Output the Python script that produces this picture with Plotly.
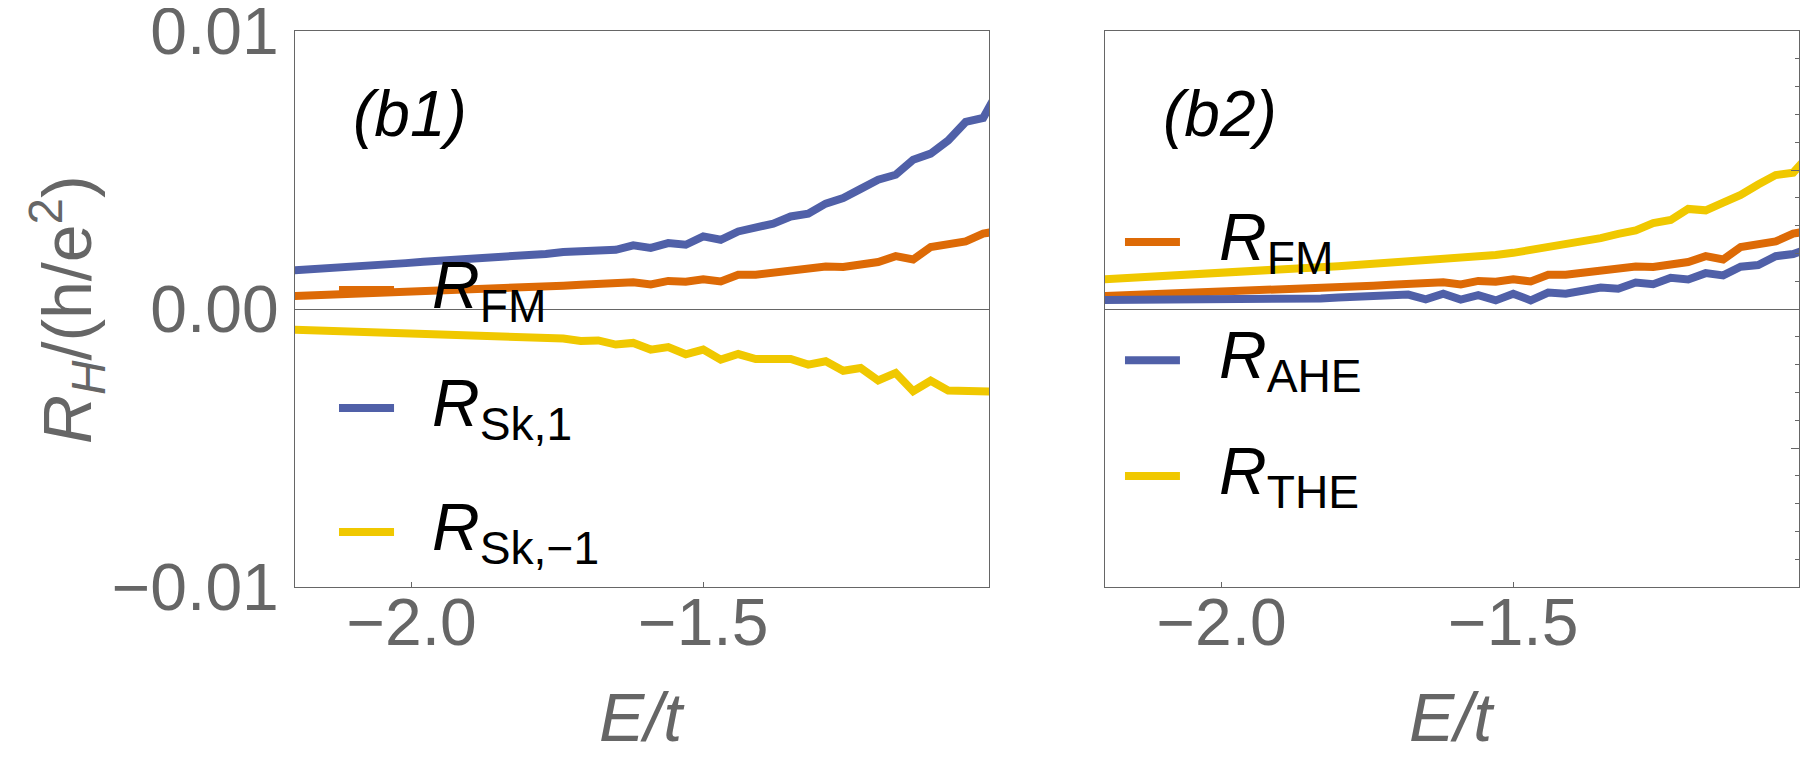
import plotly.graph_objects as go

# energy grid E/t
energy = [-2.22, -2.19, -2.16, -2.13, -2.10, -2.07, -2.04, -2.01, -1.98, -1.95,
          -1.92, -1.89, -1.86, -1.83, -1.80, -1.77, -1.74, -1.71, -1.68, -1.65,
          -1.62, -1.59, -1.56, -1.53, -1.50, -1.47, -1.44, -1.41, -1.38, -1.35,
          -1.32, -1.29, -1.26, -1.23, -1.20, -1.17, -1.14, -1.11, -1.08, -1.05,
          -1.02, -0.99]

# Hall resistance in units of h/e^2
r_fm = [0.00045, 0.00047, 0.00049, 0.00051, 0.00053, 0.00055, 0.00057, 0.00060, 0.00062, 0.00064,
        0.00067, 0.00069, 0.00071, 0.00074, 0.00078, 0.00081, 0.00084, 0.00087, 0.00090, 0.00093,
        0.00096, 0.00088, 0.00101, 0.00098, 0.00107, 0.00099, 0.00123, 0.00123, 0.00132, 0.00141,
        0.00145, 0.00153, 0.00151, 0.00159, 0.00169, 0.00190, 0.00178, 0.00223, 0.00230, 0.00243,
        0.00271, 0.00282]
r_sk1 = [0.00137, 0.00140, 0.00143, 0.00147, 0.00152, 0.00156, 0.00161, 0.00165, 0.00170, 0.00173,
         0.00177, 0.00182, 0.00187, 0.00190, 0.00195, 0.00198, 0.00205, 0.00209, 0.00216, 0.00213,
         0.00229, 0.00220, 0.00237, 0.00231, 0.00261, 0.00249, 0.00279, 0.00291, 0.00307, 0.00333,
         0.00343, 0.00379, 0.00399, 0.00432, 0.00465, 0.00483, 0.00537, 0.00559, 0.00606, 0.00673,
         0.00687, 0.00800]
r_skm1 = [-0.00073, -0.00075, -0.00077, -0.00079, -0.00081, -0.00082, -0.00083, -0.00086, -0.00088, -0.00090,
          -0.00091, -0.00094, -0.00096, -0.00098, -0.00101, -0.00108, -0.00106, -0.00115, -0.00113, -0.00128,
          -0.00122, -0.00146, -0.00137, -0.00163, -0.00146, -0.00182, -0.00162, -0.00180, -0.00177, -0.00180,
          -0.00200, -0.00188, -0.00222, -0.00212, -0.00257, -0.00230, -0.00296, -0.00258, -0.00293, -0.00293,
          -0.00294, -0.00298]
r_ahe = [0.00032, 0.00032, 0.00032, 0.00033, 0.00034, 0.00035, 0.00036, 0.00036, 0.00037, 0.00037,
         0.00037, 0.00038, 0.00039, 0.00038, 0.00041, 0.00043, 0.00048, 0.00044, 0.00052, 0.00035,
         0.00055, 0.00034, 0.00050, 0.00031, 0.00055, 0.00031, 0.00059, 0.00055, 0.00066, 0.00077,
         0.00073, 0.00095, 0.00089, 0.00112, 0.00106, 0.00129, 0.00121, 0.00152, 0.00158, 0.00190,
         0.00198, 0.00220]
r_the = [0.00105, 0.00108, 0.00111, 0.00115, 0.00118, 0.00122, 0.00125, 0.00129, 0.00132, 0.00136,
         0.00140, 0.00144, 0.00147, 0.00151, 0.00154, 0.00158, 0.00162, 0.00165, 0.00169, 0.00172,
         0.00177, 0.00182, 0.00188, 0.00194, 0.00202, 0.00212, 0.00219, 0.00231, 0.00240, 0.00255,
         0.00270, 0.00283, 0.00309, 0.00320, 0.00360, 0.00355, 0.00383, 0.00410, 0.00448, 0.00482,
         0.00490, 0.00560]

x_ticks = [-2.0, -1.5]
x_ticktext = ["\u22122.0", "\u22121.5"]
y_ticks = [-0.01, 0.0, 0.01]
y_ticktext = ["\u22120.01", "0.00", "0.01"]

BLUE = "#5060a8"
ORANGE = "#dd6a06"
YELLOW = "#f0c800"
GRAY = "#666666"
FONT = "Liberation Sans, Arial, sans-serif"

# page has an 8px body margin, so the figure is a bit smaller than the window
PAD = 8
W, H = 1815 - 2 * PAD, 772 - 2 * PAD


def fx(px):
    return (px - PAD) / W


def fy(py):
    return 1 - (py - PAD) / H


left = [("<i>R</i><sub>FM</sub>", r_fm, ORANGE),
        ("<i>R</i><sub>Sk,1</sub>", r_sk1, BLUE),
        ("<i>R</i><sub>Sk,\u22121</sub>", r_skm1, YELLOW)]
right = [("<i>R</i><sub>FM</sub>", r_fm, ORANGE),
         ("<i>R</i><sub>AHE</sub>", r_ahe, BLUE),
         ("<i>R</i><sub>THE</sub>", r_the, YELLOW)]

fig = go.Figure()
for name, ys, col in left:
    fig.add_trace(go.Scatter(x=energy, y=ys, mode="lines", line=dict(color=col, width=8),
                             xaxis="x", yaxis="y", showlegend=False))
for name, ys, col in right:
    fig.add_trace(go.Scatter(x=energy, y=ys, mode="lines", line=dict(color=col, width=8),
                             xaxis="x2", yaxis="y2", showlegend=False))

xcommon = dict(range=[-2.2, -1.01], tickmode="array", tickvals=x_ticks, ticktext=x_ticktext,
               ticks="inside", ticklen=5, tickcolor=GRAY, tickwidth=1,
               showline=True, linecolor=GRAY, linewidth=1, mirror=True,
               showgrid=False, zeroline=False,
               tickfont=dict(family=FONT, size=66, color=GRAY), ticklabelstandoff=-22)
ydom = [fy(587), fy(31)]
yrange = [-0.0100001, 0.0100001]

fig.update_layout(
    template="none",
    width=W, height=H,
    margin=dict(l=0, r=0, t=0, b=0),
    paper_bgcolor="white", plot_bgcolor="white",
    xaxis=dict(domain=[fx(295), fx(989)], anchor="y", **xcommon),
    xaxis2=dict(domain=[fx(1105), fx(1799)], anchor="y2", **xcommon),
    yaxis=dict(domain=ydom, anchor="x", range=yrange, tickmode="array",
               tickvals=y_ticks, ticktext=y_ticktext, ticks="",
               showline=True, linecolor=GRAY, linewidth=1, mirror=True,
               showgrid=False, zeroline=True, zerolinecolor=GRAY, zerolinewidth=1,
               tickfont=dict(family=FONT, size=66, color=GRAY), ticklabelstandoff=2,
               ticklabeloverflow="allow"),
    yaxis2=dict(domain=ydom, anchor="x2", range=yrange, side="right",
                tickmode="linear", tick0=0, dtick=0.005, ticks="inside", ticklen=8,
                tickcolor=GRAY, showticklabels=False,
                minor=dict(dtick=0.001, ticks="inside", ticklen=4, tickcolor=GRAY),
                showline=True, linecolor=GRAY, linewidth=1, mirror=True,
                showgrid=False, zeroline=True, zerolinecolor=GRAY, zerolinewidth=1),
)

# legends drawn inside each panel (positions as fractions of the panel)
legend_rows_left = [(0.534, 0.0634, 0.1427, 0.1945), (0.322, 0.0634, 0.1427, 0.1945),
                    (0.099, 0.0634, 0.1427, 0.1945)]
legend_rows_right = [(0.6205, 0.0288, 0.108, 0.161), (0.408, 0.0288, 0.108, 0.161),
                     (0.1996, 0.0288, 0.108, 0.161)]

for (xa, ya), entries, rows in [(("x", "y"), left, legend_rows_left),
                                (("x2", "y2"), right, legend_rows_right)]:
    for (name, ys, col), (yy, x0, x1, xt) in zip(entries, rows):
        fig.add_shape(type="line", xref=f"{xa} domain", yref=f"{ya} domain",
                      x0=x0, x1=x1, y0=yy, y1=yy, line=dict(color=col, width=8))
        fig.add_annotation(text=name, xref=f"{xa} domain", yref=f"{ya} domain",
                           x=xt, y=yy, xanchor="left", yanchor="middle", showarrow=False,
                           font=dict(family=FONT, size=66, color="black"))

# panel labels
for xa, ya, lab in [("x", "y", "<i>(b1)</i>"), ("x2", "y2", "<i>(b2)</i>")]:
    fig.add_annotation(text=lab, xref=f"{xa} domain", yref=f"{ya} domain",
                       x=0.166, y=0.851, xanchor="center", yanchor="middle", showarrow=False,
                       font=dict(family=FONT, size=64, color="black"))

# axis titles
for x0, x1 in [(295, 989), (1105, 1799)]:
    fig.add_annotation(text="<i>E/t</i>", xref="paper", yref="paper",
                       x=fx((x0 + x1) / 2), y=fy(717), xanchor="center", yanchor="middle",
                       showarrow=False, font=dict(family=FONT, size=68, color=GRAY))
fig.add_annotation(text="<i>R</i><sub><i>H</i></sub>/(h/e<sup>2</sup>)", xref="paper", yref="paper",
                   x=fx(67), y=fy(310), xanchor="center", yanchor="middle", textangle=-90,
                   showarrow=False, font=dict(family=FONT, size=68, color=GRAY))

fig.write_html("out.html")
